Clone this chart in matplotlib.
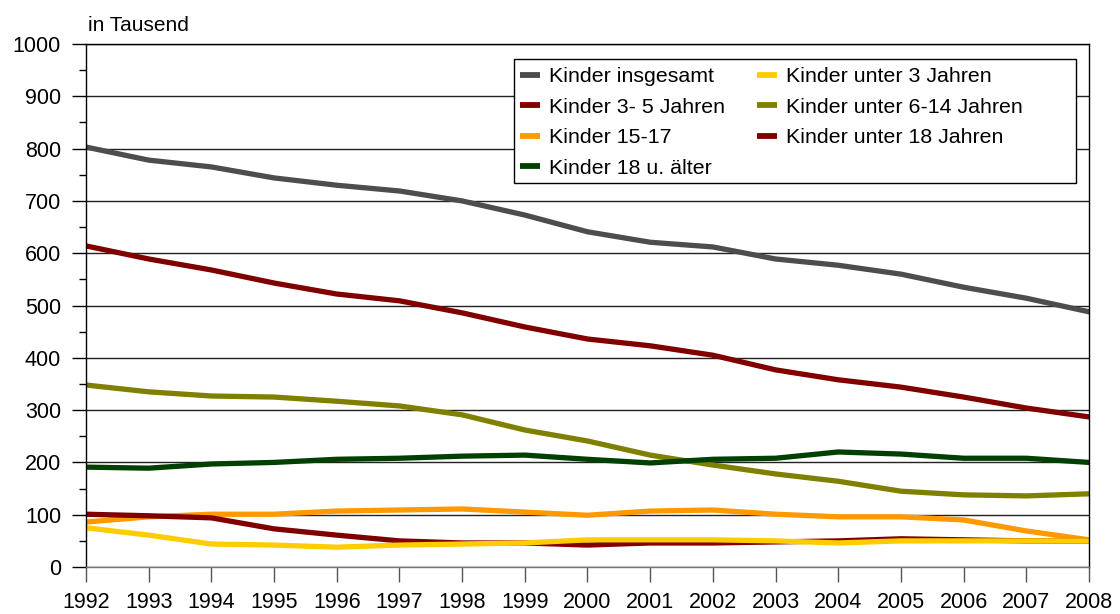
import numpy as np
import matplotlib.pyplot as plt
from matplotlib.ticker import MultipleLocator
from matplotlib.patches import Rectangle

plt.rcParams['font.family'] = ['Liberation Sans', 'DejaVu Sans']

# Jahre
jahre = list(range(1992, 2009))

# Werte in Tausend
insgesamt = [803, 778, 765, 744, 730, 719, 700, 673, 641, 621, 612, 589, 577, 560, 535, 514, 488]
unter_18 = [614, 589, 568, 543, 522, 509, 486, 459, 436, 423, 405, 377, 358, 344, 325, 304, 287]
j_6_14 = [348, 335, 327, 325, 317, 308, 291, 262, 241, 214, 195, 178, 164, 145, 138, 136, 140]
ab_18 = [191, 189, 197, 200, 206, 208, 212, 214, 206, 199, 206, 208, 220, 216, 208, 208, 200]
j_15_17 = [86, 96, 101, 101, 107, 109, 111, 105, 99, 107, 109, 101, 96, 96, 90, 69, 52]
j_3_5 = [101, 98, 94, 73, 61, 50, 46, 46, 42, 46, 46, 48, 50, 54, 52, 50, 50]
unter_3 = [75, 61, 44, 42, 38, 42, 44, 46, 52, 52, 52, 50, 46, 50, 50, 50, 50]

fig = plt.figure(figsize=(11.2, 6.14), dpi=100)
ax = fig.add_axes([0.0768, 0.0765, 0.8955, 0.8518])

lw = 3.8
l_ins, = ax.plot(jahre, insgesamt, color='#4D4D4D', lw=lw, label='Kinder insgesamt')
l_u18, = ax.plot(jahre, unter_18, color='#800000', lw=lw, label='Kinder unter 18 Jahren')
l_614, = ax.plot(jahre, j_6_14, color='#808000', lw=lw, label='Kinder unter 6-14 Jahren')
l_18, = ax.plot(jahre, ab_18, color='#004000', lw=lw, label='Kinder 18 u. älter')
l_1517, = ax.plot(jahre, j_15_17, color='#FF9900', lw=lw, label='Kinder 15-17')
l_35, = ax.plot(jahre, j_3_5, color='#800000', lw=lw, label='Kinder 3- 5 Jahren')
l_u3, = ax.plot(jahre, unter_3, color='#FFCC00', lw=lw, label='Kinder unter 3 Jahren')

ax.set_xlim(1992, 2008)
ax.set_ylim(0, 1000)
ax.set_xticks(jahre)
ax.yaxis.set_major_locator(MultipleLocator(100))
ax.yaxis.set_minor_locator(MultipleLocator(50))
ax.grid(axis='y', which='major', color='#222222', lw=1)
ax.set_axisbelow(True)

for s in ax.spines.values():
    s.set_color('black')
    s.set_linewidth(1)
ax.spines['bottom'].set_color('#777777')

ax.tick_params(axis='y', which='major', length=10, width=1, pad=8, labelsize=15.5)
ax.tick_params(axis='y', which='minor', length=5, width=1)
ax.tick_params(axis='x', length=11, width=1, pad=7, labelsize=15.5, color='#555555')

fig.text(0.0786, 0.959, 'in Tausend', fontsize=15, ha='left', va='center')

# Legendenrahmen (rechts etwas mehr Platz wie im Original)
box = Rectangle((514 / 1120, 1 - 183 / 614), 562 / 1120, 124 / 614,
                transform=fig.transFigure, facecolor='white', edgecolor='black',
                lw=1, zorder=4, clip_on=False)
ax.add_patch(box)

handles = [l_ins, l_35, l_1517, l_18, l_u3, l_614, l_u18]
leg = ax.legend(handles=handles, labels=[h.get_label() for h in handles],
                ncol=2, loc='upper left', bbox_to_anchor=(520 / 1120, 1 - 67 / 614),
                bbox_transform=fig.transFigure,
                fontsize=15.4, frameon=False, handlelength=0.95,
                handletextpad=0.4, labelspacing=0.54, columnspacing=1.5,
                borderpad=0, borderaxespad=0)
leg.set_zorder(5)
for h in leg.get_lines():
    h.set_linewidth(4.2)
    h.set_solid_capstyle('butt')

fig.savefig('out.png', dpi=100)
